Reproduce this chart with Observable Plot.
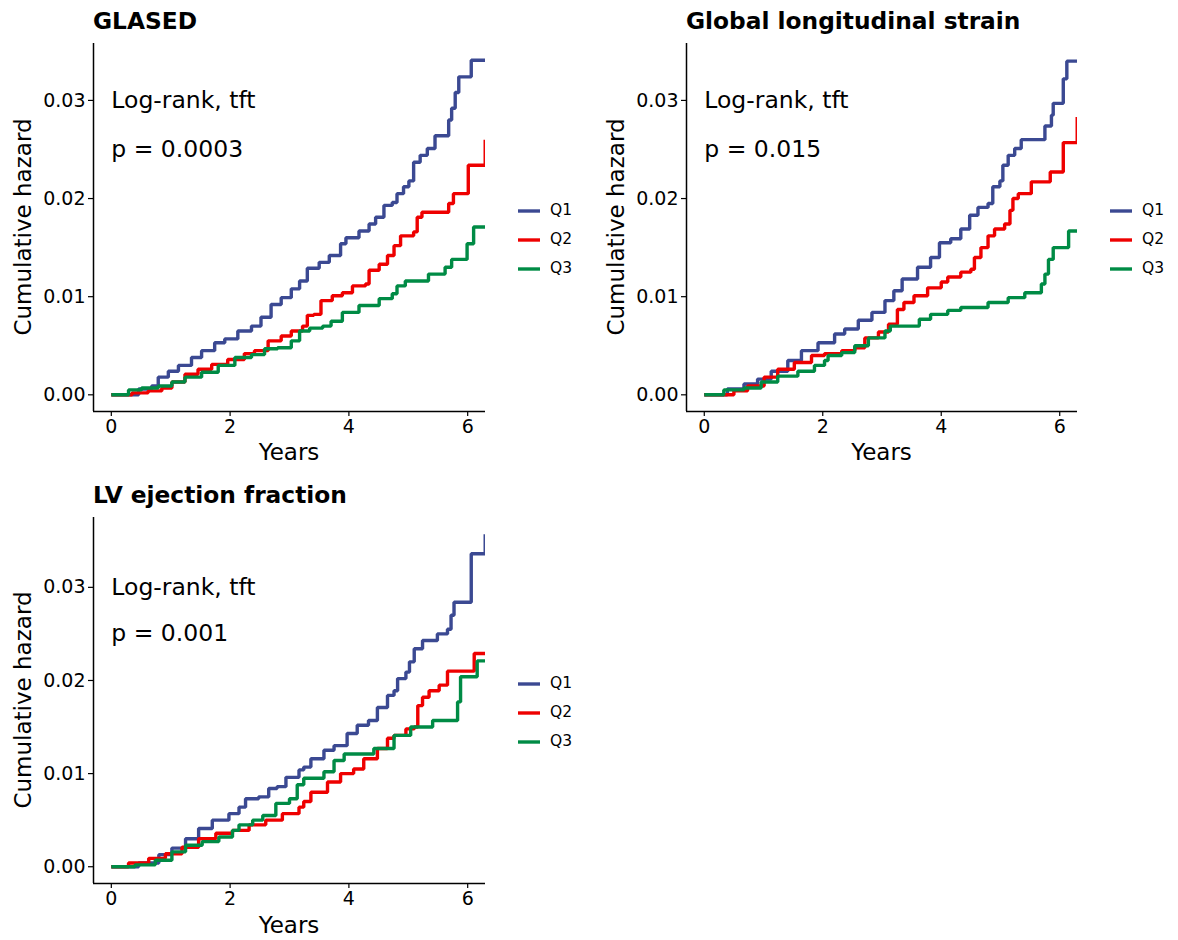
<!DOCTYPE html>
<html>
<head>
<meta charset="utf-8">
<script src="https://cdn.jsdelivr.net/npm/d3@7"></script>
<script src="https://cdn.jsdelivr.net/npm/@observablehq/plot@0.6"></script>
<style>
  html, body { margin: 0; padding: 0; background: #ffffff; }
  #root { position: relative; width: 1178px; height: 940px; overflow: hidden; font-family: "DejaVu Sans", sans-serif; color: #000; }
  .abs { position: absolute; white-space: nowrap; line-height: 1; }
  .title { font-weight: bold; font-size: 23.3px; transform: translateY(-50%); }
  .xlab { font-size: 23px; transform: translate(-50%, -50%); }
  .ylab { font-size: 23px; transform: translate(-50%, -50%) rotate(-90deg); }
  .legtext { font-size: 15.5px; transform: translateY(-50%); }
</style>
</head>
<body>
<div id="root"></div>
<script>
// ---------- data ----------
const groups = ["Q1", "Q2", "Q3"];
const groupColors = ["#3B4992", "#EE0000", "#008B45"];
const xTicks = [0, 2, 4, 6];
const yTicks = [0, 0.01, 0.02, 0.03];
const annotationLine1 = "Log-rank, tft";

// Panel: GLASED  ([years, cumulative hazard])
const glasedQ1 = [[0,0],[0.46,0.0006],[0.68,0.0009],[0.79,0.0018],[0.96,0.0024],[1.13,0.003],[1.35,0.0038],[1.52,0.0045],[1.74,0.0053],[1.91,0.0057],[2.13,0.0065],[2.36,0.007],[2.52,0.0079],[2.69,0.0092],[2.86,0.0099],[3.03,0.0108],[3.17,0.0116],[3.3,0.0129],[3.5,0.0135],[3.67,0.0142],[3.86,0.0154],[3.95,0.016],[4.17,0.0167],[4.34,0.0174],[4.45,0.0181],[4.59,0.0193],[4.73,0.0196],[4.81,0.0205],[4.92,0.0212],[5.01,0.0218],[5.09,0.0237],[5.2,0.0244],[5.32,0.0251],[5.45,0.0264],[5.68,0.028],[5.73,0.0292],[5.79,0.0308],[5.85,0.0324],[6.06,0.0341],[6.4,0.0341]];
const glasedQ2 = [[0,0],[0.35,0.0002],[0.62,0.0004],[0.85,0.0007],[1.02,0.0013],[1.24,0.0021],[1.46,0.0026],[1.69,0.0031],[1.96,0.0036],[2.24,0.0042],[2.41,0.0045],[2.64,0.0055],[2.86,0.006],[3.03,0.0065],[3.22,0.007],[3.3,0.0081],[3.41,0.0082],[3.53,0.0096],[3.72,0.0101],[3.89,0.0104],[4.06,0.0111],[4.28,0.0113],[4.34,0.0127],[4.51,0.0133],[4.65,0.0142],[4.76,0.0152],[4.87,0.0162],[5.09,0.0166],[5.15,0.0181],[5.23,0.0186],[5.68,0.0195],[5.76,0.0205],[6.01,0.0234],[6.295,0.026]];
const glasedQ3 = [[0,0],[0.29,0.0005],[0.51,0.0007],[0.79,0.0009],[1.02,0.0013],[1.24,0.0018],[1.52,0.0023],[1.8,0.003],[2.08,0.0038],[2.36,0.0041],[2.58,0.0047],[2.8,0.0048],[3.03,0.0055],[3.17,0.0065],[3.34,0.0068],[3.56,0.007],[3.7,0.0075],[3.89,0.0084],[4.17,0.0091],[4.51,0.0098],[4.73,0.0103],[4.81,0.0111],[4.95,0.0116],[5.34,0.0123],[5.62,0.013],[5.73,0.0138],[5.99,0.0154],[6.1,0.0171],[6.4,0.0171]];

// Panel: Global longitudinal strain
const glsQ1 = [[0,0],[0.39,0.0006],[0.67,0.0011],[0.9,0.0016],[1.13,0.0024],[1.41,0.0035],[1.64,0.0045],[1.92,0.0053],[2.2,0.0062],[2.37,0.0067],[2.6,0.0076],[2.83,0.0084],[3.05,0.0096],[3.2,0.0106],[3.34,0.0118],[3.6,0.013],[3.82,0.014],[3.97,0.0155],[4.16,0.0159],[4.33,0.0169],[4.48,0.0183],[4.62,0.0191],[4.79,0.0195],[4.87,0.0212],[4.99,0.0218],[5.04,0.0234],[5.13,0.0244],[5.24,0.0251],[5.35,0.026],[5.75,0.0274],[5.86,0.0285],[5.89,0.0297],[6.06,0.0322],[6.12,0.034],[6.4,0.034]];
const glsQ2 = [[0,0],[0.5,0.0004],[0.73,0.0009],[1.01,0.0018],[1.24,0.0026],[1.52,0.0033],[1.81,0.004],[2.03,0.0042],[2.32,0.0045],[2.54,0.0048],[2.71,0.0058],[2.94,0.0064],[3.11,0.0072],[3.26,0.0087],[3.37,0.0094],[3.54,0.0101],[3.77,0.0109],[4.0,0.0115],[4.11,0.012],[4.33,0.0125],[4.5,0.0128],[4.56,0.014],[4.67,0.015],[4.79,0.0162],[4.9,0.0169],[5.07,0.0174],[5.16,0.0188],[5.21,0.02],[5.3,0.0205],[5.52,0.0217],[5.84,0.0227],[6.06,0.0257],[6.295,0.0283]];
const glsQ3 = [[0,0],[0.33,0.0005],[0.67,0.0007],[0.96,0.0013],[1.24,0.0019],[1.58,0.0024],[1.86,0.003],[2.03,0.0035],[2.09,0.004],[2.32,0.0043],[2.54,0.005],[2.77,0.0058],[3.05,0.0065],[3.14,0.007],[3.63,0.0077],[3.82,0.0082],[4.11,0.0086],[4.33,0.0089],[4.79,0.0094],[5.13,0.0099],[5.41,0.0104],[5.69,0.0113],[5.75,0.0123],[5.81,0.0138],[5.89,0.015],[6.15,0.0167],[6.4,0.0167]];

// Panel: LV ejection fraction
const lvefQ1 = [[0,0],[0.46,0.0004],[0.8,0.0013],[1.02,0.002],[1.25,0.003],[1.47,0.0041],[1.7,0.005],[1.98,0.0057],[2.15,0.0064],[2.26,0.0073],[2.48,0.0075],[2.65,0.0084],[2.79,0.0086],[2.94,0.0096],[3.16,0.0104],[3.24,0.0107],[3.36,0.0116],[3.58,0.0125],[3.75,0.013],[3.97,0.0143],[4.14,0.0152],[4.33,0.0157],[4.48,0.0171],[4.65,0.0184],[4.76,0.0189],[4.82,0.0202],[4.96,0.0209],[5.02,0.022],[5.1,0.0234],[5.24,0.0243],[5.49,0.025],[5.66,0.0255],[5.72,0.027],[5.77,0.0284],[6.06,0.0336],[6.295,0.0357]];
const lvefQ2 = [[0,0],[0.29,0.0004],[0.63,0.0009],[0.91,0.0014],[1.19,0.0021],[1.47,0.003],[1.76,0.0036],[2.04,0.0039],[2.32,0.0045],[2.6,0.005],[2.88,0.0057],[3.16,0.0064],[3.24,0.007],[3.36,0.008],[3.64,0.0091],[3.86,0.01],[4.08,0.0105],[4.25,0.0116],[4.48,0.0127],[4.65,0.0138],[4.76,0.0141],[4.96,0.0148],[5.1,0.015],[5.16,0.0173],[5.24,0.0182],[5.35,0.0189],[5.52,0.0195],[5.66,0.021],[6.11,0.0229],[6.4,0.0229]];
const lvefQ3 = [[0,0],[0.4,0.0002],[0.74,0.0007],[1.02,0.0016],[1.25,0.0023],[1.53,0.0027],[1.81,0.0032],[2.04,0.0039],[2.15,0.0045],[2.38,0.005],[2.55,0.0055],[2.77,0.0068],[3.0,0.0073],[3.13,0.0088],[3.24,0.0095],[3.58,0.0102],[3.75,0.0114],[3.92,0.0121],[4.42,0.0127],[4.76,0.0141],[5.04,0.015],[5.41,0.0157],[5.83,0.0177],[5.88,0.0204],[6.16,0.0221],[6.4,0.0221]];

const panels = [
  { title: "GLASED", p: "p = 0.0003", series: [glasedQ1, glasedQ2, glasedQ3],
    frame: { left: 93, right: 485, top: 43, bottom: 411 }, yDomain: [-0.0017, 0.0358],
    legendRows: [211, 240, 269], titleY: 21, xlabY: 452 },
  { title: "Global longitudinal strain", p: "p = 0.015", series: [glsQ1, glsQ2, glsQ3],
    frame: { left: 686, right: 1077, top: 43, bottom: 411 }, yDomain: [-0.0017, 0.0358],
    legendRows: [211, 240, 269], titleY: 21, xlabY: 452 },
  { title: "LV ejection fraction", p: "p = 0.001", series: [lvefQ1, lvefQ2, lvefQ3],
    frame: { left: 93, right: 485, top: 517, bottom: 883 }, yDomain: [-0.0018, 0.0375],
    legendRows: [684, 713, 742], titleY: 495, xlabY: 925 }
];

// ---------- drawing ----------
const root = document.getElementById("root");
const xDomain = [-0.3, 6.3];

function addDiv(cls, text, left, top) {
  const d = document.createElement("div");
  d.className = "abs " + cls;
  d.textContent = text;
  d.style.left = left + "px";
  d.style.top = top + "px";
  root.appendChild(d);
  return d;
}

for (const pn of panels) {
  const f = pn.frame;
  const mL = 90, mR = 10, mT = 10, mB = 40;
  const rows = [];
  pn.series.forEach((s, i) => s.forEach(([t, v]) => rows.push({ t, v, g: groups[i] })));
  const notes = [
    { t: 0, v: 0.03, label: annotationLine1 },
    { t: 0, v: 0.025, label: pn.p }
  ];
  const chart = Plot.plot({
    width: (f.right - f.left) + mL + mR,
    height: (f.bottom - f.top) + mT + mB,
    marginLeft: mL, marginRight: mR, marginTop: mT, marginBottom: mB,
    style: { fontFamily: "DejaVu Sans, sans-serif", fontSize: "19px", color: "#000", background: "transparent", overflow: "visible" },
    x: { domain: xDomain, label: null },
    y: { domain: pn.yDomain, label: null },
    color: { domain: groups, range: groupColors },
    marks: [
      Plot.line(rows, { x: "t", y: "v", z: "g", stroke: "g", curve: "step-after", strokeWidth: 3.4, strokeLinecap: "butt", strokeLinejoin: "miter", clip: true }),
      Plot.text(notes, { x: "t", y: "v", text: "label", textAnchor: "start", fontSize: 23.5, fill: "#000" }),
      Plot.ruleX([xDomain[0]], { stroke: "#000", strokeWidth: 1.5 }),
      Plot.ruleY([pn.yDomain[0]], { stroke: "#000", strokeWidth: 1.5 }),
      Plot.axisX({ ticks: xTicks, tickFormat: d3.format("d"), tickSize: 5, tickPadding: 3, fontSize: 19, label: null, strokeWidth: 1.2 }),
      Plot.axisY({ ticks: yTicks, tickFormat: d3.format(".2f"), tickSize: 5, tickPadding: 3, fontSize: 19, label: null, strokeWidth: 1.2 })
    ]
  });
  chart.style.position = "absolute";
  chart.style.left = (f.left - mL) + "px";
  chart.style.top = (f.top - mT) + "px";
  root.appendChild(chart);

  // titles and axis titles
  addDiv("title", pn.title, f.left, pn.titleY);
  addDiv("xlab", "Years", (f.left + f.right) / 2, pn.xlabY);
  addDiv("ylab", "Cumulative hazard", f.left - 70, (f.top + f.bottom) / 2);

  // legend
  pn.legendRows.forEach((y, i) => {
    const sw = document.createElementNS("http://www.w3.org/2000/svg", "svg");
    sw.setAttribute("width", 24); sw.setAttribute("height", 10);
    sw.style.position = "absolute";
    sw.style.left = (f.right + 32) + "px";
    sw.style.top = (y - 5) + "px";
    const ln = document.createElementNS("http://www.w3.org/2000/svg", "line");
    ln.setAttribute("x1", 1); ln.setAttribute("x2", 23);
    ln.setAttribute("y1", 5); ln.setAttribute("y2", 5);
    ln.setAttribute("stroke", groupColors[i]); ln.setAttribute("stroke-width", 3.4);
    sw.appendChild(ln);
    root.appendChild(sw);
    addDiv("legtext", groups[i], f.right + 65, y);
  });
}
</script>
</body>
</html>
